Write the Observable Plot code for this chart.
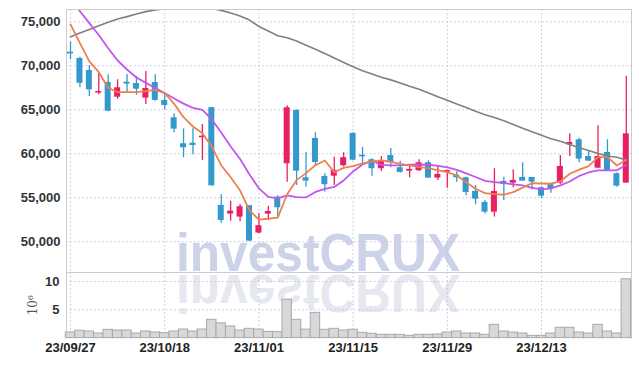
<!DOCTYPE html>
<html><head><meta charset="utf-8">
<script src="https://cdn.jsdelivr.net/npm/d3@7"></script>
<script src="https://cdn.jsdelivr.net/npm/@observablehq/plot@0.6"></script>
<style>
html,body{margin:0;padding:0;background:#fff;}
#wrap{position:relative;width:639px;height:366px;overflow:hidden;}
#wm,#main,#vol{position:absolute;left:0;}
#wm{top:0;}
#main{top:0;}
#vol{top:272px;}
</style></head><body>
<div id="wrap">
<svg id="wm" width="639" height="366">
  <text x="176" y="271" font-family="Liberation Sans, Arial, sans-serif" font-weight="bold" font-size="54" fill="#ccd3e8" textLength="284" lengthAdjust="spacingAndGlyphs">investCRUX</text>
  <text transform="matrix(1,0,0,-1,0,546)" x="176" y="271" font-family="Liberation Sans, Arial, sans-serif" font-weight="bold" font-size="54" fill="#e6e8f0" textLength="284" lengthAdjust="spacingAndGlyphs">investCRUX</text>
</svg>
<div id="main"></div>
<div id="vol"></div>
</div>
<script>
const dates = [
"23/09/27","23/10/04","23/10/05","23/10/06","23/10/10","23/10/11","23/10/12","23/10/13","23/10/16","23/10/17",
"23/10/18","23/10/19","23/10/20","23/10/23","23/10/24","23/10/25","23/10/26","23/10/27","23/10/30","23/10/31",
"23/11/01","23/11/02","23/11/03","23/11/06","23/11/07","23/11/08","23/11/09","23/11/10","23/11/13","23/11/14",
"23/11/15","23/11/16","23/11/17","23/11/20","23/11/21","23/11/22","23/11/23","23/11/24","23/11/27","23/11/28",
"23/11/29","23/11/30","23/12/01","23/12/04","23/12/05","23/12/06","23/12/07","23/12/08","23/12/11","23/12/12",
"23/12/13","23/12/14","23/12/15","23/12/18","23/12/19","23/12/20","23/12/21","23/12/22","23/12/26","23/12/27"];
const opens = [
71550,70830,69470,66900,68100,66430,68140,67990,66320,68100,
66060,64090,61140,61200,61820,65230,54130,53140,52800,54090,
50980,53140,55070,58860,64920,57270,61740,57420,57450,58640,
62310,59840,59320,58300,59810,58410,58020,58070,58980,57230,
57900,57570,57270,55720,54470,53360,56850,56660,57310,57310,
56140,56480,56660,61020,61590,59690,58360,60150,57730,56660];
const highs = [
72700,70980,70030,69270,68980,68410,69010,68780,69350,68980,
66820,64550,62840,62840,63330,65300,55340,54610,54240,54130,
53180,54010,55230,65450,65000,60150,62390,57730,59610,60110,
62400,60720,59430,59690,60600,59160,58700,59320,59200,58520,
58100,57950,57340,56400,54690,58300,57340,58180,58980,57310,
56200,56660,59810,62270,61770,60300,63180,61590,57800,68820];
const lows = [
70700,67500,66510,66700,64770,66200,66970,66660,65600,65980,
65000,62390,59550,59890,59240,56300,52110,52340,52270,50030,
50910,52420,52800,56770,56400,56200,58590,55640,56400,58480,
59200,58780,57450,57990,58410,57800,57270,57990,57230,56970,
56090,56770,55230,54200,53140,52800,54690,56140,56890,55910,
54920,55520,56510,59690,58980,59120,58360,58020,56200,56660];
const closes = [
71350,68020,67270,67080,64840,67500,67910,67340,67420,66060,
65490,62800,60680,60940,62000,56360,52420,53480,53980,50070,
51820,53440,53860,65230,58020,56890,59010,56480,58100,59550,
59270,59650,58300,59200,58980,57880,58220,58980,57230,57650,
58100,57270,55600,54840,53360,55720,56550,56970,56890,56770,
55180,56020,58560,61280,59390,59160,59690,58020,56320,62270];
const volumes = [
1.00,1.30,1.17,0.81,1.46,1.34,1.34,0.81,1.17,0.99,
0.87,1.17,1.52,1.17,1.52,3.23,2.60,2.05,1.34,1.64,
1.50,1.10,1.10,6.77,3.23,1.50,4.47,1.47,1.64,1.34,
1.47,0.93,0.76,0.58,0.58,0.58,0.40,0.58,0.58,0.64,
0.99,1.17,0.81,0.81,0.58,2.35,1.17,0.99,0.81,0.40,
0.40,0.81,1.82,1.82,0.99,0.81,2.35,1.17,0.81,10.40];
const ma5 = [
74700,72570,70500,69270,67500,67000,67000,67010,67110,67270,
66890,65680,64160,63100,62340,60800,58670,57340,55830,53560,
52500,52610,52730,55400,57000,57800,58700,59240,57900,58400,
58600,58900,59130,59240,59090,58860,58670,58480,58360,58100,
57910,57530,56770,56020,55520,55400,55340,55640,56150,56660,
56620,56590,56850,57730,58200,58590,59610,59610,58670,59300];
const ma20 = [
77600,76200,74850,73500,71990,70600,69580,68670,68060,67480,
66900,66290,65700,65220,64980,63900,62420,60830,59410,57650,
56060,55090,54920,55260,55060,55030,55660,56000,56230,56970,
57990,58780,59200,58730,58670,58670,58750,58780,58750,58610,
58440,58160,57760,57360,56910,56770,56650,56530,56400,56110,
55940,56060,56400,56850,57480,57870,58100,58120,58120,58730];
const ma60 = [
73300,73740,74140,74560,74960,75330,75590,75890,76160,76350,
76500,76600,76680,76700,76650,76530,76300,75990,75660,75200,
74470,73950,73420,73180,72820,72340,71890,71400,70890,70380,
69890,69440,69060,68700,68400,68050,67670,67330,66910,66480,
66080,65670,65260,64840,64430,64120,63740,63330,62910,62500,
62100,61700,61420,61060,60680,60370,60030,59750,59600,59300];
const tickDates = ["23/09/27","23/10/18","23/11/01","23/11/15","23/11/29","23/12/13"];
const priceTicks = [50000,55000,60000,65000,70000,75000];
const volTicks = [5,10];

const rows = dates.map((d,i)=>({date:d, open:opens[i], high:highs[i], low:lows[i], close:closes[i],
  vol:volumes[i], ma5:ma5[i], ma20:ma20[i], ma60:ma60[i]}));
const RED = "#e91e63", BLUE = "#3399cc";
const col = d => d.close >= d.open ? RED : BLUE;
const gridStyle = {stroke:"#bfc3dc", strokeOpacity:1, strokeDasharray:"1.5,2.5", strokeWidth:1};
const font = "Liberation Sans, Arial, sans-serif";
const xOpt = {type:"band", domain:dates, range:[65.3,630.5], padding:0, round:false, axis:null};

const main = Plot.plot({
  width:639, height:272, marginTop:9, marginBottom:0, marginLeft:66, marginRight:8,
  style:{background:"transparent", fontFamily:font, fontSize:"13px", overflow:"visible"},
  x:xOpt,
  y:{domain:[46500,76400], axis:null},
  marks:[
    Plot.gridY(priceTicks, gridStyle),
    Plot.gridX(tickDates, gridStyle),
    Plot.axisY(priceTicks, {tickSize:0, tickPadding:6, tickFormat:d3.format(","), fontWeight:"bold", fill:"#333", label:null, fontSize:13}),
    Plot.ruleX(rows, {x:"date", y1:"low", y2:"high", stroke:col, strokeWidth:1.3}),
    Plot.barY(rows, {x:"date", y1:"open", y2:"close", fill:col, insetLeft:1.7, insetRight:1.7}),
    Plot.lineY(rows, {x:"date", y:"ma60", stroke:"#808080", strokeWidth:1.6, clip:true}),
    Plot.lineY(rows, {x:"date", y:"ma20", stroke:"#c455ee", strokeWidth:1.8, clip:true}),
    Plot.lineY(rows, {x:"date", y:"ma5", stroke:"#ee8050", strokeWidth:1.8, clip:true}),
    Plot.frame({stroke:"#cccccc"})
  ]
});
document.getElementById("main").appendChild(main);

const vol = Plot.plot({
  width:639, height:94, marginTop:0, marginBottom:28.4, marginLeft:66, marginRight:8,
  style:{background:"transparent", fontFamily:font, fontSize:"13px", overflow:"visible"},
  x:xOpt,
  y:{domain:[0,11.6], axis:null},
  marks:[
    Plot.gridY(volTicks, gridStyle),
    Plot.gridX(tickDates, gridStyle),
    Plot.barY(rows, {x:"date", y:"vol", fill:"#d8d8da", stroke:"#a9a9ac", strokeWidth:1}),
    Plot.axisY(volTicks, {tickSize:0, tickPadding:7, fontWeight:"bold", fill:"#333", label:null, fontSize:13}),
    Plot.axisY([], {label:"10⁶", labelAnchor:"center", labelOffset:38, labelArrow:"none", fontFamily:"DejaVu Serif, serif", fontSize:12, fill:"#555"}),
    Plot.axisX(tickDates, {tickSize:0, tickPadding:5, fontWeight:"bold", fill:"#222", label:null, fontSize:13}),
    Plot.frame({anchor:"left", stroke:"#cccccc"}),
    Plot.frame({anchor:"right", stroke:"#cccccc"})
  ]
});
document.getElementById("vol").appendChild(vol);
</script>
</body></html>
